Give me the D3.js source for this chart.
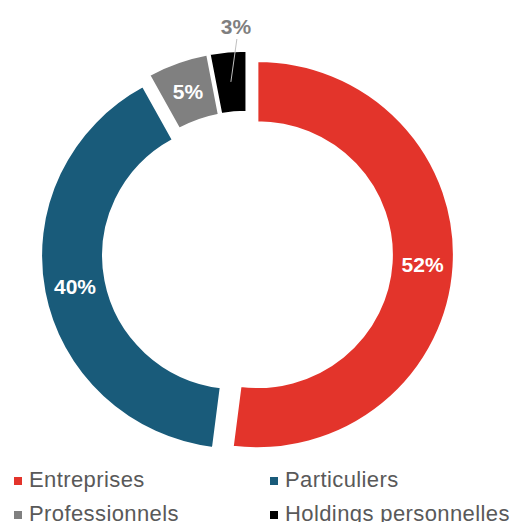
<!DOCTYPE html>
<html>
<head>
<meta charset="utf-8">
<script src="https://cdn.jsdelivr.net/npm/d3@7"></script>
<style>
  body { margin: 0; background: #fff; }
  svg { display: block; font-family: "Liberation Sans", Arial, sans-serif; }
</style>
</head>
<body>
<svg id="chart" width="510" height="522"></svg>
<script>
const categories = ["Entreprises", "Particuliers", "Professionnels", "Holdings personnelles"];
const values = [52, 40, 5, 3];
const colors = ["#e3342b", "#195b7a", "#808080", "#000000"];
const valueLabels = ["52%", "40%", "5%", "3%"];

const SVG = d3.select("#chart");
const CX = 247.4;
const CY = 254;
const SY = 0.985; // the ring is a touch flatter than round
const OUTER = 196.5;
const INNER = 134.5;
const EXPLODE = 10;
const LABEL_R = (OUTER + INNER) / 2;

const pie = d3.pie().sort(null).value((d) => d.value);
const arc = d3.arc().innerRadius(INNER).outerRadius(OUTER);

const slices = pie(categories.map((c, i) => ({ name: c, value: values[i], color: colors[i], label: valueLabels[i] })));

const mid = (d) => (d.startAngle + d.endAngle) / 2;

const ring = SVG.append("g")
  .attr("transform", "translate(" + CX + "," + CY + ") scale(1," + SY + ")");

ring.selectAll("path")
  .data(slices)
  .join("path")
  .attr("transform", (d) => "translate(" + EXPLODE * Math.sin(mid(d)) + "," + -EXPLODE * Math.cos(mid(d)) + ")")
  .attr("d", arc)
  .attr("fill", (d) => d.data.color)
  .attr("stroke", "#fff")
  .attr("stroke-width", 2);

// label anchor inside each slice
const anchor = (d) => {
  const r = EXPLODE + LABEL_R;
  return [CX + r * Math.sin(mid(d)), CY - r * Math.cos(mid(d)) * SY];
};

const big = slices.filter((d) => d.data.value >= 4);
const small = slices.filter((d) => d.data.value < 4);

SVG.append("g")
  .selectAll("text")
  .data(big)
  .join("text")
  .attr("x", (d) => anchor(d)[0])
  .attr("y", (d) => anchor(d)[1])
  .attr("dy", "0.36em")
  .attr("text-anchor", "middle")
  .attr("fill", "#fff")
  .attr("font-weight", "bold")
  .attr("font-size", 21)
  .text((d) => d.data.label);

// small slice: label above the ring with a leader line
const outside = SVG.append("g");
small.forEach((d) => {
  const [ax, ay] = anchor(d);
  const tx = ax + 5;
  const ty = CY - 228;
  outside.append("line")
    .attr("x1", ax)
    .attr("y1", ay)
    .attr("x2", tx + 1)
    .attr("y2", ty + 13)
    .attr("stroke", "#bfbfbf")
    .attr("stroke-width", 1);
  outside.append("text")
    .attr("x", tx)
    .attr("y", ty)
    .attr("dy", "0.36em")
    .attr("text-anchor", "middle")
    .attr("fill", "#7f7f7f")
    .attr("font-weight", "bold")
    .attr("font-size", 21)
    .text(d.data.label);
});

// legend, two columns (the second row runs off the bottom, as in the original)
const legend = SVG.append("g")
  .selectAll("g")
  .data(categories)
  .join("g")
  .attr("transform", (d, i) => "translate(" + (14 + (i % 2) * 256) + "," + (487 + Math.floor(i / 2) * 34) + ")");

legend.append("rect")
  .attr("x", 0)
  .attr("y", -10)
  .attr("width", 8)
  .attr("height", 8)
  .attr("fill", (d, i) => colors[i]);

legend.append("text")
  .attr("x", 15)
  .attr("y", 0)
  .attr("fill", "#595959")
  .attr("font-size", 22)
  .attr("letter-spacing", 0.4)
  .text((d) => d);
</script>
</body>
</html>
